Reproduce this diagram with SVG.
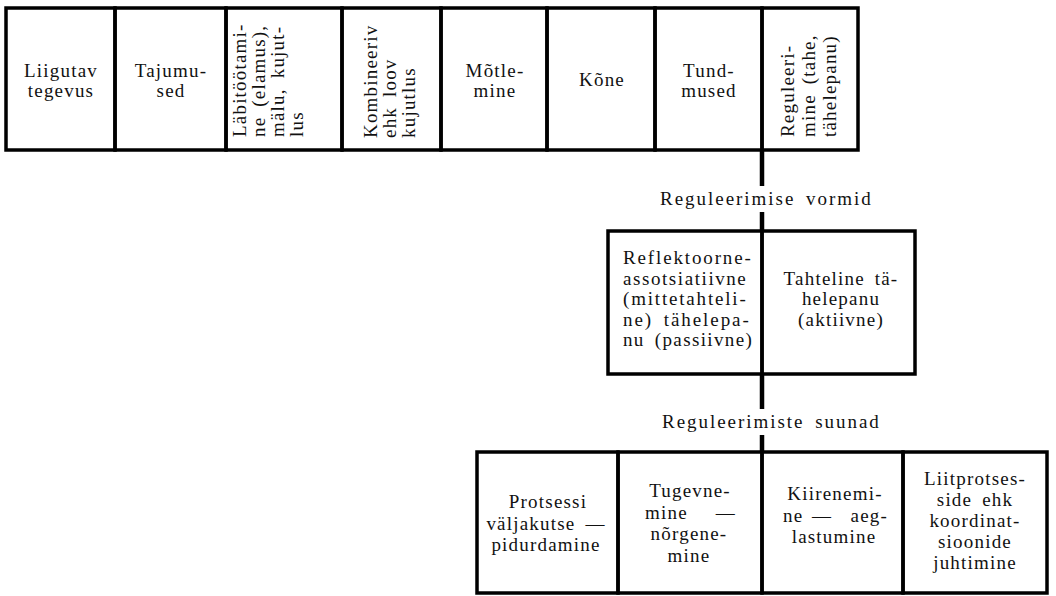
<svg xmlns="http://www.w3.org/2000/svg" width="1056" height="596" viewBox="0 0 1056 596">
<style>
.bx{fill:none;stroke:#000;stroke-width:3.5}
.t{font-family:"Liberation Serif","Times New Roman",serif;font-size:19px;letter-spacing:1.2px;word-spacing:4px;fill:#111}
.c{text-anchor:middle}
.e{text-anchor:end}
.conn{stroke:#000;stroke-width:4.5;fill:none}
</style>
<rect width="1056" height="596" fill="#fff"/>
<g id="connectors">
<line class="conn" x1="762" y1="150" x2="762" y2="186"/>
<line class="conn" x1="762" y1="212" x2="762" y2="231"/>
<line class="conn" x1="762" y1="374" x2="762" y2="409"/>
<line class="conn" x1="762" y1="435" x2="762" y2="452"/>
<text class="t" x="660" y="205" textLength="212" lengthAdjust="spacing">Reguleerimise vormid</text>
<text class="t" x="662" y="428" textLength="218" lengthAdjust="spacing">Reguleerimiste suunad</text>
</g>
<g id="liigutav-tegevus">
<rect class="bx" x="6" y="8" width="109" height="142"/>
<text class="t c" x="61" y="77">Liigutav</text>
<text class="t c" x="61" y="97">tegevus</text>
</g>
<g id="tajumused">
<rect class="bx" x="115" y="8" width="111" height="142"/>
<text class="t c" x="171" y="77">Tajumu-</text>
<text class="t c" x="171" y="97">sed</text>
</g>
<g id="labitootamine">
<rect class="bx" x="226" y="8" width="116" height="142"/>
<text class="t" transform="translate(246,137) rotate(-90)">Läbitöötami-</text>
<text class="t" transform="translate(265,137) rotate(-90)">ne (elamus),</text>
<text class="t" transform="translate(284,137) rotate(-90)">mälu, kujut-</text>
<text class="t" transform="translate(303,137) rotate(-90)">lus</text>
</g>
<g id="kombineeriv">
<rect class="bx" x="342" y="8" width="99" height="142"/>
<text class="t" transform="translate(377,138) rotate(-90)">Kombineeriv</text>
<text class="t" transform="translate(396,138) rotate(-90)">ehk loov</text>
<text class="t" transform="translate(415,138) rotate(-90)">kujutlus</text>
</g>
<g id="motlemine">
<rect class="bx" x="441" y="8" width="106" height="142"/>
<text class="t c" x="495" y="77">Mõtle-</text>
<text class="t c" x="495" y="97">mine</text>
</g>
<g id="kone">
<rect class="bx" x="547" y="8" width="108" height="142"/>
<text class="t c" x="602" y="86">Kõne</text>
</g>
<g id="tundmused">
<rect class="bx" x="655" y="8" width="107" height="142"/>
<text class="t c" x="709" y="77">Tund-</text>
<text class="t c" x="709" y="97">mused</text>
</g>
<g id="reguleerimine">
<rect class="bx" x="762" y="8" width="96" height="142"/>
<text class="t" transform="translate(794,137) rotate(-90)">Reguleeri-</text>
<text class="t" transform="translate(815,137) rotate(-90)">mine (tahe,</text>
<text class="t" transform="translate(836,137) rotate(-90)">tähelepanu)</text>
</g>
<g id="reflektoorne">
<rect class="bx" x="608" y="231" width="154" height="143"/>
<text class="t" x="623" y="264" textLength="129" lengthAdjust="spacing">Reflektoorne-</text>
<text class="t" x="623" y="284.5" textLength="124" lengthAdjust="spacing">assotsiatiivne</text>
<text class="t" x="623" y="305" textLength="124" lengthAdjust="spacing">(mittetahteli-</text>
<text class="t" x="623" y="325.5" textLength="127" lengthAdjust="spacing">ne) tähelepa-</text>
<text class="t" x="623" y="346" textLength="130" lengthAdjust="spacing">nu (passiivne)</text>
</g>
<g id="tahteline">
<rect class="bx" x="762" y="231" width="153" height="143"/>
<text class="t c" x="841" y="284.5">Tahteline tä-</text>
<text class="t c" x="841" y="305">helepanu</text>
<text class="t c" x="841" y="325.5">(aktiivne)</text>
</g>
<g id="protsessi">
<rect class="bx" x="477" y="452" width="141" height="141"/>
<text class="t c" x="548" y="508">Protsessi</text>
<text class="t c" x="546" y="529.5">väljakutse —</text>
<text class="t c" x="546" y="551">pidurdamine</text>
</g>
<g id="tugevnemine">
<rect class="bx" x="618" y="452" width="144" height="141"/>
<text class="t c" x="690" y="497">Tugevne-</text>
<text class="t" x="645" y="518.5">mine</text>
<text class="t e" x="736" y="518.5">—</text>
<text class="t c" x="689" y="540">nõrgene-</text>
<text class="t c" x="689" y="561.5">mine</text>
</g>
<g id="kiirenemine">
<rect class="bx" x="762" y="452" width="141" height="141"/>
<text class="t c" x="835" y="500">Kiirenemi-</text>
<text class="t" x="783" y="521.5">ne</text>
<text class="t c" x="822" y="521.5">—</text>
<text class="t e" x="888" y="521.5">aeg-</text>
<text class="t c" x="834" y="543">lastumine</text>
</g>
<g id="liitprotsesside">
<rect class="bx" x="903" y="452" width="144" height="141"/>
<text class="t c" x="975" y="485">Liitprotses-</text>
<text class="t c" x="975" y="506">side ehk</text>
<text class="t c" x="975" y="527">koordinat-</text>
<text class="t c" x="975" y="548">sioonide</text>
<text class="t c" x="975" y="569">juhtimine</text>
</g>
</svg>
